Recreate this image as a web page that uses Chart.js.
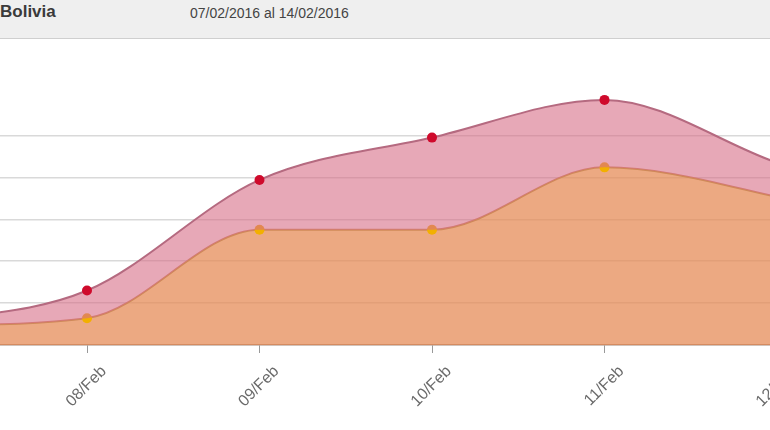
<!DOCTYPE html>
<html>
<head>
<meta charset="utf-8">
<script src="https://cdn.jsdelivr.net/npm/chart.js@4.4.1/dist/chart.umd.min.js"></script>
<style>
  html, body { margin: 0; padding: 0; width: 770px; height: 430px; overflow: hidden; background: #fff; font-family: "Liberation Sans", Arial, sans-serif; }
  #hdr { position: absolute; left: 0; top: 0; width: 770px; height: 38px; background: #efefef; border-bottom: 1px solid #cfcfcf; z-index: 2; }
  #title { position: absolute; left: 0; top: 2px; font-size: 17px; font-weight: bold; color: #3a3a3a; }
  #range { position: absolute; left: 190px; top: 5px; font-size: 14px; color: #444; }
  #wrap { position: absolute; left: -5px; top: 40px; width: 950px; height: 390px; }
</style>
</head>
<body>
<div id="hdr"><span id="title">Bolivia</span><span id="range">07/02/2016 al 14/02/2016</span></div>
<div id="wrap"><canvas id="c"></canvas></div>
<script>
const categories = ["07/Feb", "08/Feb", "09/Feb", "10/Feb", "11/Feb", "12/Feb", "13/Feb", "14/Feb"];
const seriesTotal = [5.0, 13.0, 39.4, 49.5, 58.5, 43.5, 30, 25];
const seriesPart  = [4.6, 6.4, 27.5, 27.5, 42.4, 35.3, 24, 20];

const toPoints = arr => arr.map((v, i) => ({ x: i, y: v }));

new Chart(document.getElementById('c'), {
  type: 'line',
  data: {
    datasets: [
      {
        label: 'Total',
        data: toPoints(seriesTotal),
        borderColor: '#b56a80',
        borderWidth: 2,
        backgroundColor: 'rgba(215,110,135,0.6)',
        fill: 1,
        cubicInterpolationMode: 'monotone',
        pointRadius: 5,
        pointBorderWidth: 0,
        pointBackgroundColor: '#cf0a2c'
      },
      {
        label: 'Parcial',
        data: toPoints(seriesPart),
        borderColor: '#cf8a58',
        borderWidth: 2,
        backgroundColor: 'rgba(229,140,88,0.75)',
        fill: 'origin',
        cubicInterpolationMode: 'monotone',
        pointRadius: 5,
        pointBorderWidth: 0,
        pointBackgroundColor: '#f2b000'
      }
    ]
  },
  options: {
    responsive: true,
    maintainAspectRatio: false,
    animation: false,
    layout: { padding: 0 },
    plugins: { legend: { display: false }, tooltip: { enabled: false } },
    scales: {
      x: {
        type: 'linear',
        min: 1 - 87 / 172.5,
        max: 1 + (940 - 87) / 172.5,
        afterFit: s => { s.height = 85; s.paddingLeft = 0; s.paddingRight = 0; },
        border: { display: true, color: 'rgba(140,105,85,0.8)', width: 1.5 },
        grid: { drawOnChartArea: false, drawTicks: true, tickLength: 8, color: '#999' },
        ticks: {
          stepSize: 1,
          includeBounds: false,
          autoSkip: false,
          maxRotation: 45,
          minRotation: 45,
          labelOffset: 17,
          padding: 9,
          color: '#6a6a6a',
          font: { family: '"Liberation Sans", Arial, sans-serif', size: 16 },
          callback: v => Number.isInteger(v) ? (categories[v] || '') : ''
        }
      },
      y: {
        min: 0,
        max: 71.6,
        afterFit: s => { s.width = 0; },
        border: { display: false },
        grid: {
          drawTicks: false,
          color: ctx => (ctx.tick && ctx.tick.value > 0 && ctx.tick.value <= 50) ? 'rgba(170,170,170,0.45)' : 'transparent',
          lineWidth: 1.5
        },
        ticks: { display: false, stepSize: 10, padding: 0 }
      }
    }
  }
});
</script>
</body>
</html>
